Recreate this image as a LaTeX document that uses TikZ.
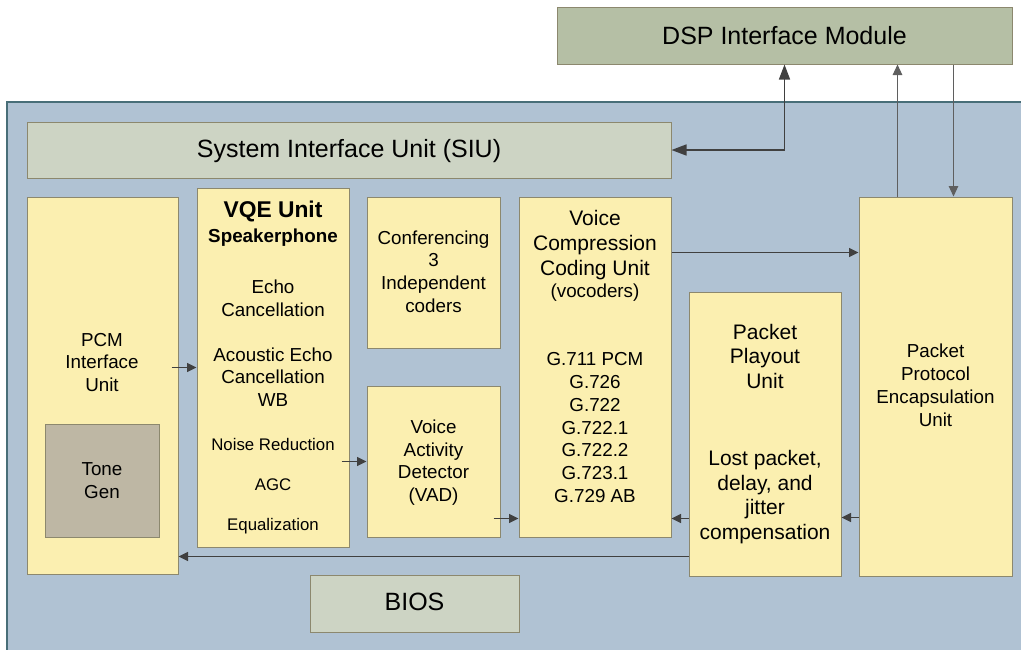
\documentclass[tikz,border=0pt]{standalone}
\usepackage{fontspec}
\setmainfont{Liberation Sans}
\usetikzlibrary{arrows.meta,calc}
\definecolor{panelfill}{RGB}{176,194,211}
\definecolor{panelline}{RGB}{72,110,120}
\definecolor{unitfill}{RGB}{251,239,176}
\definecolor{unitline}{RGB}{140,136,110}
\definecolor{busfill}{RGB}{205,212,196}
\definecolor{dspfill}{RGB}{181,191,165}
\definecolor{tonefill}{RGB}{190,183,164}
\definecolor{wire}{RGB}{64,64,64}
\definecolor{wirelight}{RGB}{95,95,95}

\begin{document}
\begin{tikzpicture}[x=1pt,y=-1pt,
  boxdim/.style 2 args={minimum width=#1pt,minimum height=#2pt},
  unit/.style={draw=unitline,fill=unitfill,line width=1pt,inner sep=0pt},
  bus/.style={unit,fill=busfill},
  dspbox/.style={unit,fill=dspfill},
  tonebox/.style={unit,fill=tonefill},
  % labels are placed by the baseline of their last line
  txt/.style={inner sep=0pt,anchor=base,align=center,
    font=\fontsize{18.8}{22.8}\selectfont},
  smalltxt/.style={txt,font=\fontsize{16.8}{20}\selectfont},
  headtxt/.style={txt,font=\fontsize{21}{24.8}\selectfont},
  bigtxt/.style={txt,font=\fontsize{25}{30}\selectfont},
  conn/.style={draw=wire,line width=1.2pt,-{Triangle[length=9.5pt,width=9pt]}},
  thinconn/.style={conn,draw=wirelight,-{Triangle[length=10.5pt,width=9.5pt]}},
  bigconn/.style={draw=wire,line width=1.5pt,
    {Triangle[length=15pt,width=11pt]}-{Triangle[length=15pt,width=11pt]}}
]
\useasboundingbox (0,0) rectangle (1021,649);
\clip (0,0) rectangle (1021,649);

% chip panel
\draw[fill=panelfill,draw=panelline,line width=2pt] (7,102) rectangle (1040,670);

% blocks
\node[dspbox,boxdim={455}{57}] (dsp) at (784.5,35.5) {};
\node[bus,boxdim={644}{56}] (siu) at (349,150) {};
\node[unit,boxdim={151}{377}] (pcm) at (102.5,385.5) {};
\node[tonebox,boxdim={114}{113}] (tone) at (102,480.5) {};
\node[unit,boxdim={152}{359}] (vqe) at (273,367.5) {};
\node[unit,boxdim={133}{151}] (conf) at (433.5,272.5) {};
\node[unit,boxdim={133}{151}] (vad) at (433.5,461.5) {};
\node[unit,boxdim={152}{340}] (vccu) at (595,367) {};
\node[unit,boxdim={152}{284}] (play) at (765,434) {};
\node[unit,boxdim={153}{379}] (ppe) at (935.5,386.5) {};
\node[bus,boxdim={209}{57}] (bios) at (414.5,603.5) {};

% connection points
\coordinate (pUp) at ($(ppe.north west)+(39,0)$);
\coordinate (pDn) at ($(ppe.north west)+(95,0)$);
\coordinate (vadOut) at ([xshift=-7pt,yshift=19pt]vad.south east);
\coordinate (playOut) at ([yshift=58pt]play.south west);
\coordinate (ppeOut) at ([yshift=59pt]ppe.south west);
\coordinate (vccuOut) at ([yshift=-56pt]vccu.north east);
\coordinate (pcmIn) at ([yshift=20pt]play.south west);

% connectors
\draw[bigconn] (siu.east) -| (dsp.south);
\draw[thinconn] (pUp) -- (pUp |- dsp.south);
\draw[thinconn] (pDn |- dsp.south) -- (pDn);
\draw[conn] ([xshift=-7pt]pcm.east |- vqe.west) -- (vqe.west);
\draw[conn] ([xshift=-8pt]vqe.east |- vad.west) -- (vad.west);
\draw[conn] (vadOut) -- (vadOut -| vccu.west);
\draw[conn] (playOut) -- (playOut -| vccu.east);
\draw[conn] (ppeOut) -- (ppeOut -| play.east);
\draw[conn] (vccuOut) -- (vccuOut -| ppe.west);
\draw[conn] (pcmIn) -- (pcmIn -| pcm.east);

% labels
\node[bigtxt] (dspT) at (784.5,44.3) {DSP Interface Module};
\node[bigtxt] (siuT) at (349,157.7) {System Interface Unit (SIU)};
\node[bigtxt] (biosT) at (414.5,610.7) {BIOS};
\node[txt] (pcmT) at (102,391.6) {PCM\\Interface\\Unit};
\node[txt] (toneT) at (102,498) {Tone\\Gen};
\node[txt,font=\fontsize{22.8}{26}\selectfont\bfseries] (vqeT) at (273,217.7) {VQE Unit};
\node[txt,font=\fontsize{18.8}{22.8}\selectfont\bfseries] (vqeS) at (273,242.7) {Speakerphone};
\node[txt] (vqeE) at (273,316.1) {Echo\\Cancellation};
\node[txt] (vqeA) at (273,406.6) {Acoustic Echo\\Cancellation\\WB};
\node[smalltxt] (vqeN) at (273,450) {Noise Reduction};
\node[smalltxt] (vqeG) at (273,490.7) {AGC};
\node[smalltxt] (vqeQ) at (273,530.7) {Equalization};
\node[txt] (confT) at (433.5,312.5) {Conferencing\\3\\Independent\\coders};
\node[txt] (vadT) at (433.5,501.7) {Voice\\Activity\\Detector\\(VAD)};
\node[headtxt] (vccuT) at (595,275) {Voice\\Compression\\Coding Unit};
\node[txt] (vccuV) at (595,297.5) {(vocoders)};
\node[txt] (vccuG) at (595,502.5) {G.711 PCM\\G.726\\G.722\\G.722.1\\G.722.2\\G.723.1\\G.729 AB};
\node[headtxt] (playT) at (765,388.6) {Packet\\Playout\\Unit};
\node[headtxt] (playL) at (765,539.6) {Lost packet,\\delay, and\\jitter\\compensation};
\node[txt] (ppeT) at (935.5,426.1) {Packet\\Protocol\\Encapsulation\\Unit};
\end{tikzpicture}
\end{document}
